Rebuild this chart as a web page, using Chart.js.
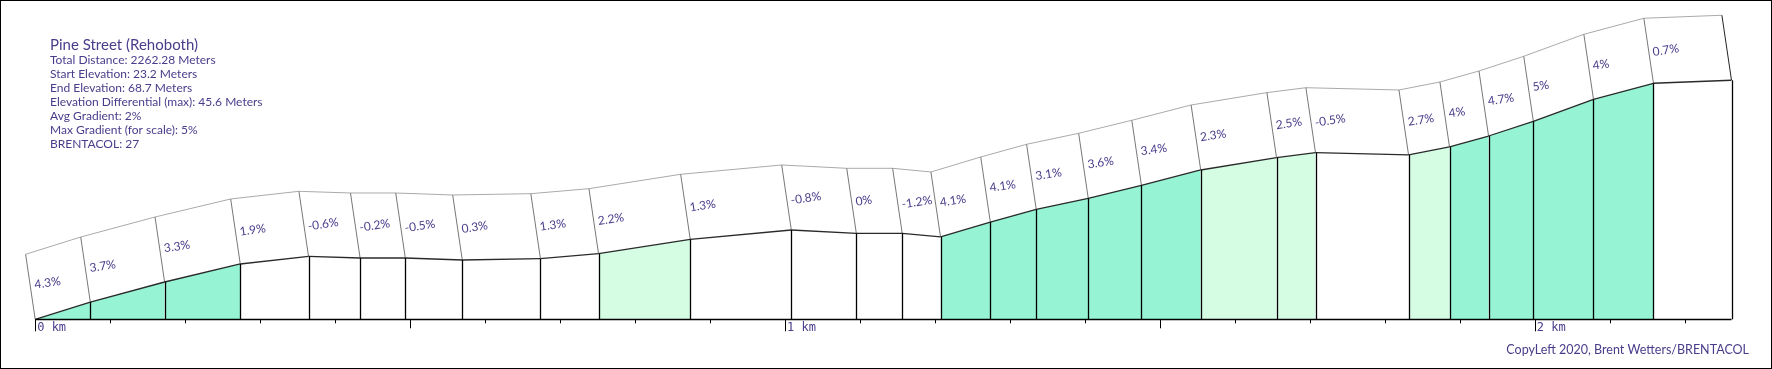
<!DOCTYPE html>
<html>
<head>
<meta charset="utf-8">
<title>Pine Street (Rehoboth)</title>
<script src="https://cdn.jsdelivr.net/npm/chart.js@4"></script>
<style>
  html, body { margin: 0; padding: 0; background: #fff; }
  canvas { display: block; }
</style>
</head>
<body>
<canvas id="profile" width="1772" height="369"></canvas>
<script>
// distance along the climb (m) and elevation (m) at each segment boundary
const distances = [0, 73.5, 172.6, 273.5, 364.5, 433.3, 493.6, 569.6, 673.8, 751.3,
  873.6, 1008.4, 1095.1, 1156.3, 1207.4, 1273.8, 1335.0, 1404.4, 1475.3, 1554.4,
  1655.5, 1707.5, 1831.6, 1886.2, 1938.3, 1998.0, 2078.2, 2158.2, 2262.28]
const elevations = [23.2, 26.49, 30.30, 33.73, 35.19, 34.87, 34.87, 34.49, 34.74, 35.69,
  38.43, 40.20, 39.57, 39.57, 38.87, 41.72, 44.14, 46.23, 48.71, 51.62,
  53.98, 54.91, 54.48, 56.00, 58.09, 60.89, 65.08, 68.13, 68.7]
// gradient printed on each segment (%)
const gradients = [4.3, 3.7, 3.3, 1.9, -0.6, -0.2, -0.5, 0.3, 1.3, 2.2,
  1.3, -0.8, 0, -1.2, 4.1, 4.1, 3.1, 3.6, 3.4, 2.3,
  2.5, -0.5, 2.7, 4, 4.7, 5, 4, 0.7]
const infoLines = [
  "Total Distance: 2262.28 Meters",
  "Start Elevation: 23.2 Meters",
  "End Elevation: 68.7 Meters",
  "Elevation Differential (max): 45.6 Meters",
  "Avg Gradient: 2%",
  "Max Gradient (for scale): 5%",
  "BRENTACOL: 27"
]
const title = "Pine Street (Rehoboth)"
const credit = "CopyLeft 2020, Brent Wetters/BRENTACOL"
const tickStep = 100
const kmLabels = ["0 km", "1 km", "2 km"]

const TEXT = '#483d8b'
const WALL_DX = -9.6, WALL_DY = -65

function fillFor(g) {
  if (g >= 3) return '#96f4d4'
  if (g >= 2) return '#d4fde4'
  return '#ffffff'
}

const datasets = gradients.map((g, i) => ({
  data: [
    { x: distances[i], y: elevations[i] },
    { x: distances[i + 1], y: elevations[i + 1] }
  ],
  fill: 'start',
  backgroundColor: fillFor(g),
  borderColor: '#2a2a2a',
  borderWidth: 1.3,
  pointRadius: 0,
  tension: 0
}))

const profilePlugin = {
  id: 'profile',
  beforeDatasetsDraw(chart) {
    const { ctx, scales: { x, y } } = chart
    const pts = distances.map((d, i) => [x.getPixelForValue(d), y.getPixelForValue(elevations[i])])
    ctx.save()
    // white walls above the profile
    for (let i = 0; i < gradients.length; i++) {
      const [x0, y0] = pts[i], [x1, y1] = pts[i + 1]
      ctx.beginPath()
      ctx.moveTo(x0, y0)
      ctx.lineTo(x1, y1)
      ctx.lineTo(x1 + WALL_DX, y1 + WALL_DY)
      ctx.lineTo(x0 + WALL_DX, y0 + WALL_DY)
      ctx.closePath()
      ctx.fillStyle = '#fff'
      ctx.fill()
    }
    ctx.lineWidth = 1
    ctx.strokeStyle = '#aaaaaa'
    ctx.beginPath()
    pts.forEach(([px, py], i) => {
      if (i === 0) ctx.moveTo(px + WALL_DX, py + WALL_DY)
      else ctx.lineTo(px + WALL_DX, py + WALL_DY)
    })
    ctx.stroke()
    ctx.strokeStyle = '#777'
    pts.forEach(([px, py], i) => {
      if (i === pts.length - 1) ctx.strokeStyle = '#222'
      ctx.beginPath()
      ctx.moveTo(px + WALL_DX, py + WALL_DY)
      ctx.lineTo(px, py)
      ctx.stroke()
    })
    ctx.restore()
  },
  afterDatasetsDraw(chart) {
    const { ctx, scales: { x, y } } = chart
    const base = y.getPixelForValue(y.min)
    const pts = distances.map((d, i) => [x.getPixelForValue(d), y.getPixelForValue(elevations[i])])
    ctx.save()
    // verticals at segment boundaries
    ctx.strokeStyle = '#000'
    ctx.lineWidth = 1.3
    for (let i = 1; i < pts.length; i++) {
      ctx.beginPath()
      ctx.moveTo(Math.round(pts[i][0]) + 0.5, pts[i][1])
      ctx.lineTo(Math.round(pts[i][0]) + 0.5, base)
      ctx.stroke()
    }
    // baseline
    ctx.beginPath()
    ctx.moveTo(pts[0][0], Math.round(base) + 0.5)
    ctx.lineTo(pts[pts.length - 1][0], Math.round(base) + 0.5)
    ctx.stroke()
    // distance ticks
    ctx.lineWidth = 1
    const last = distances[distances.length - 1]
    for (let d = 0; d <= last; d += tickStep) {
      const px = Math.round(x.getPixelForValue(d)) + 0.5
      const len = d % 1000 === 0 ? 12 : (d % 500 === 0 ? 9 : 4)
      ctx.beginPath()
      ctx.moveTo(px, base)
      ctx.lineTo(px, base + len)
      ctx.stroke()
    }
    ctx.fillStyle = TEXT
    ctx.font = '12px "DejaVu Sans Mono"'
    ctx.textBaseline = 'middle'
    ctx.textAlign = 'left'
    kmLabels.forEach((lab, k) => {
      ctx.fillText(lab, x.getPixelForValue(k * 1000) + 2, base + 9)
    })
    // gradient labels on the walls
    const ang = Math.atan2(WALL_DX, -WALL_DY)
    ctx.font = '12px Lato'
    gradients.forEach((g, i) => {
      const [x0, y0] = pts[i], [x1, y1] = pts[i + 1]
      const txt = g + '%'
      const w = ctx.measureText(txt).width
      const cx = x0 + WALL_DX / 2 + 4 + w / 2
      const cy = y0 + (y1 - y0) * (cx - x0) / (x1 - x0) + WALL_DY / 2
      ctx.save()
      ctx.translate(cx, cy)
      ctx.rotate(ang)
      ctx.textAlign = 'center'
      ctx.fillText(txt, 0, 0)
      ctx.restore()
    })
    ctx.restore()
  },
  afterDraw(chart) {
    const { ctx, width, height } = chart
    ctx.save()
    ctx.fillStyle = TEXT
    ctx.textBaseline = 'middle'
    ctx.font = '15px Lato'
    ctx.fillText(title, 50, 45)
    ctx.font = '12px Lato'
    infoLines.forEach((line, i) => ctx.fillText(line, 50, 60 + i * 14))
    ctx.textAlign = 'right'
    ctx.font = '12.5px Lato'
    ctx.fillText(credit, 1749, 350)
    ctx.strokeStyle = '#000'
    ctx.lineWidth = 1
    ctx.strokeRect(0.5, 0.5, width - 1, height - 1)
    ctx.restore()
  }
}

new Chart(document.getElementById('profile'), {
  type: 'line',
  data: { datasets },
  options: {
    responsive: false,
    animation: false,
    devicePixelRatio: 1,
    layout: { padding: { left: 35.2, right: 40.5, top: 20.9, bottom: 49.7 } },
    plugins: { legend: { display: false }, tooltip: { enabled: false } },
    scales: {
      x: { type: 'linear', min: 0, max: 2262.28, display: false },
      y: { min: 23.2, max: 80, display: false }
    }
  },
  plugins: [profilePlugin]
})
</script>
</body>
</html>
